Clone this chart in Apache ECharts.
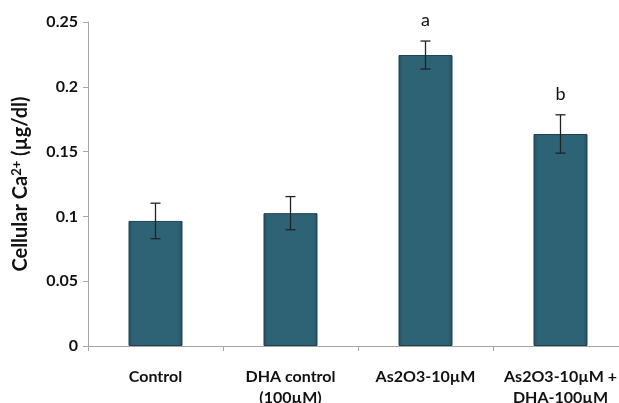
<!DOCTYPE html>
<html><head><meta charset="utf-8">
<script src="https://cdn.jsdelivr.net/npm/echarts@6/dist/echarts.min.js"></script>
<style>html,body{margin:0;padding:0;background:#fff}#c{width:619px;height:403px}</style>
</head><body><div id="c"></div>
<script>
var categories = ['Control', 'DHA control\n(100µM)', 'As2O3-10µM', 'As2O3-10µM +\nDHA-100µM'];
var means = [0.0965, 0.1025, 0.2245, 0.1636];
var errors = [0.0137, 0.0128, 0.0108, 0.0148];
var marks = ['', '', 'a', 'b'];
var yTicks = [0, 0.05, 0.1, 0.15, 0.2, 0.25];

var font = 'Lato, "Open Sans", sans-serif';
var chart = echarts.init(document.getElementById('c'), null, {renderer: 'canvas'});
var errData = means.map(function (m, i) { return [i, m - errors[i], m + errors[i], marks[i]]; });

chart.setOption({
  animation: false,
  backgroundColor: '#fff',
  grid: {left: 88, top: 22, width: 540, height: 324, outerBoundsMode: 'none', containLabel: false},
  xAxis: {
    type: 'category',
    data: categories,
    axisLine: {lineStyle: {color: '#a6a6a6', width: 1}},
    axisTick: {show: true, length: 5, interval: 0, lineStyle: {color: '#a6a6a6'}},
    axisLabel: {interval: 0, hideOverlap: false, fontFamily: font, fontWeight: 'bold', fontSize: 16, color: '#111', margin: 20, lineHeight: 21}
  },
  yAxis: {
    type: 'value',
    min: yTicks[0], max: yTicks[yTicks.length - 1], interval: 0.05,
    name: '{a|Cellular Ca}{s|2+}{a| (µg/dl)}',
    nameLocation: 'middle', nameRotate: 90, nameGap: 56,
    nameTextStyle: {
      rich: {
        a: {fontFamily: font, fontWeight: 'bold', fontSize: 20, color: '#111', lineHeight: 22},
        s: {fontFamily: font, fontWeight: 'bold', fontSize: 13, color: '#111', verticalAlign: 'top', lineHeight: 22, padding: [0, 0, 7, 0]}
      }
    },
    axisLine: {show: true, lineStyle: {color: '#a6a6a6', width: 1}},
    axisTick: {show: true, length: 5, lineStyle: {color: '#a6a6a6'}},
    splitLine: {show: false},
    axisLabel: {fontFamily: font, fontWeight: 'bold', fontSize: 16, color: '#111', margin: 10}
  },
  series: [
    {
      type: 'bar',
      data: means,
      barWidth: '40%',
      itemStyle: {
        color: new echarts.graphic.LinearGradient(0, 0, 1, 0, [
          {offset: 0, color: '#24505f'},
          {offset: 0.08, color: '#2e6275'},
          {offset: 0.92, color: '#2e6275'},
          {offset: 1, color: '#24505f'}
        ]),
        borderColor: '#1d4250', borderWidth: 1
      }
    },
    {
      type: 'custom',
      data: errData,
      z: 10,
      renderItem: function (params, api) {
        var x = api.value(0);
        var lo = api.coord([x, api.value(1)]);
        var hi = api.coord([x, api.value(2)]);
        var w = 5;
        var st = {stroke: '#222', lineWidth: 1.3};
        var children = [
          {type: 'line', shape: {x1: hi[0], y1: hi[1], x2: lo[0], y2: lo[1]}, style: st},
          {type: 'line', shape: {x1: hi[0] - w, y1: hi[1], x2: hi[0] + w, y2: hi[1]}, style: st},
          {type: 'line', shape: {x1: lo[0] - w, y1: lo[1], x2: lo[0] + w, y2: lo[1]}, style: st}
        ];
        var m = api.value(3);
        if (m) {
          children.push({type: 'text', style: {text: m, x: hi[0], y: hi[1] - 21, align: 'center', verticalAlign: 'middle', fontFamily: font, fontSize: 18, fill: '#111'}});
        }
        return {type: 'group', children: children};
      }
    }
  ]
});
</script></body></html>
